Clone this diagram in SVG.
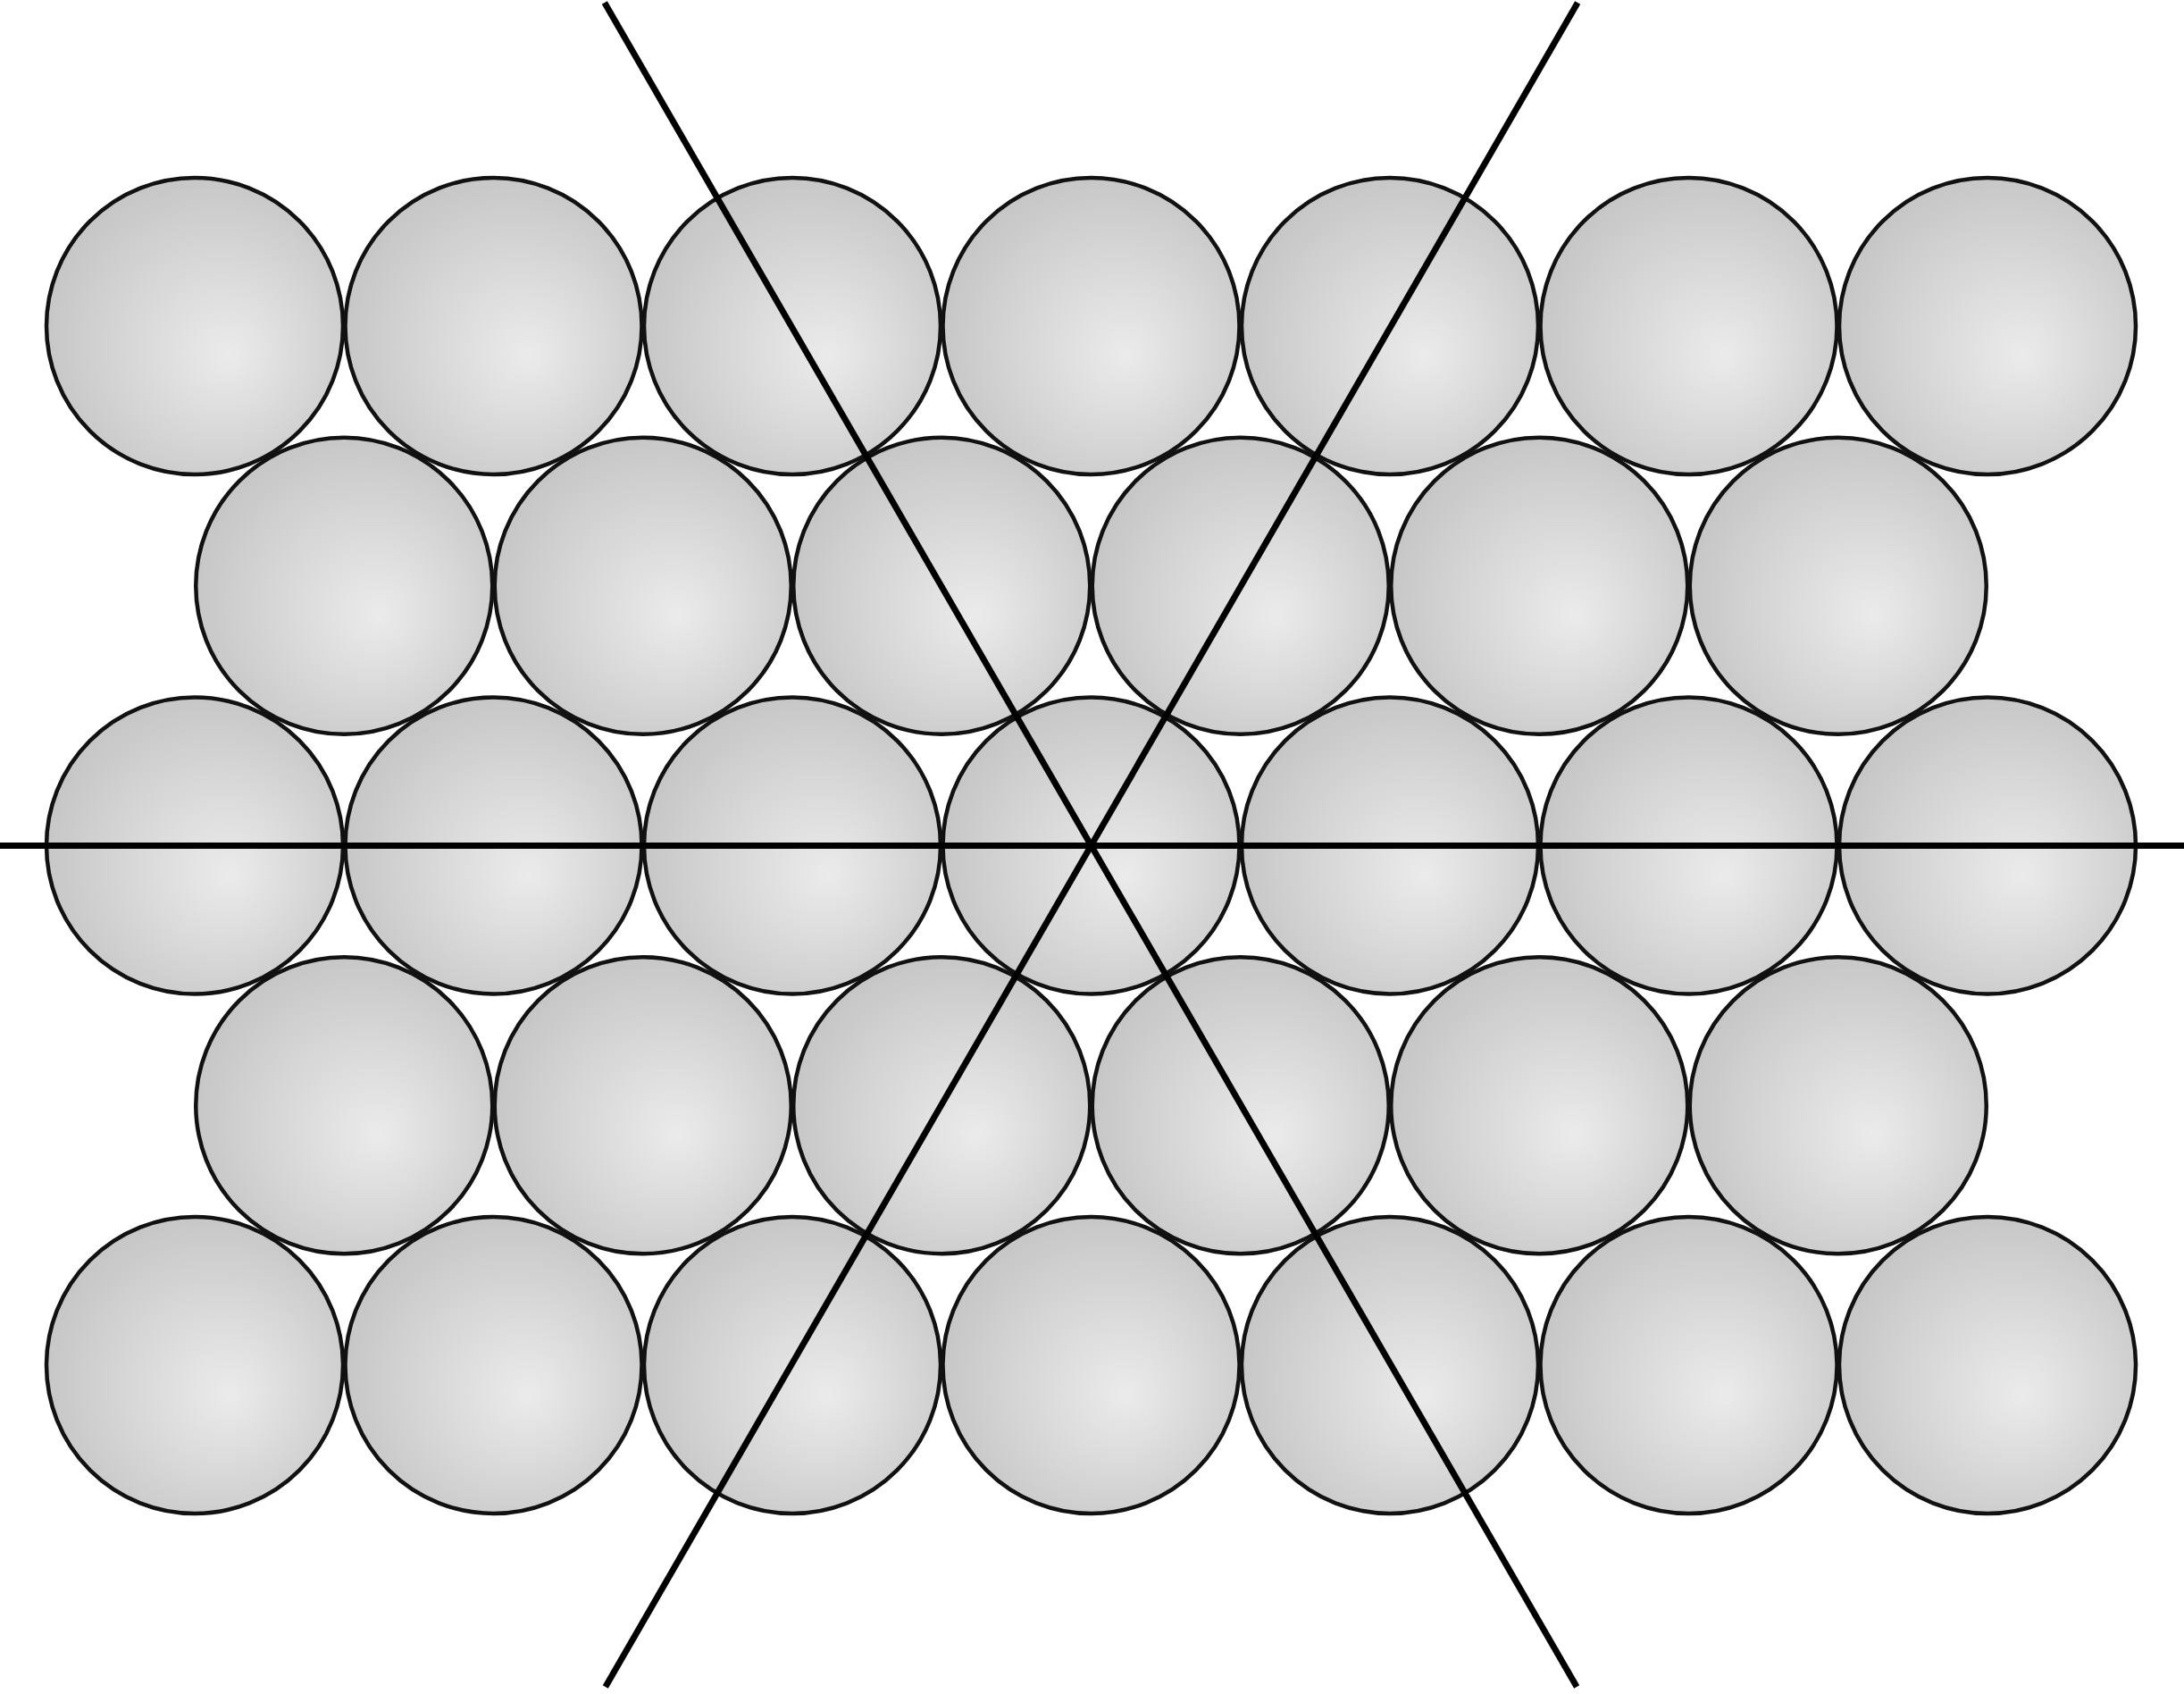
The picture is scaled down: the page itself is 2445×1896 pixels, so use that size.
<svg xmlns="http://www.w3.org/2000/svg" width="2445" height="1896" viewBox="0 0 2445 1896">
<defs>
<radialGradient id="g" cx="0.55" cy="0.55" r="0.6" fx="0.62" fy="0.6">
<stop offset="0" stop-color="#ebebeb"/>
<stop offset="1" stop-color="#c4c4c4"/>
</radialGradient>
</defs>
<style>
.c{fill:url(#g);stroke:#111;stroke-width:4.5}
.l{stroke:#000;stroke-width:7;fill:none}
</style>
<rect width="2445" height="1896" fill="#fff"/>
<g id="row1">
<circle id="c1_1" class="c" cx="218" cy="365" r="166"/>
<circle id="c1_2" class="c" cx="552.5" cy="365" r="166"/>
<circle id="c1_3" class="c" cx="887" cy="365" r="166"/>
<circle id="c1_4" class="c" cx="1221.5" cy="365" r="166"/>
<circle id="c1_5" class="c" cx="1556" cy="365" r="166"/>
<circle id="c1_6" class="c" cx="1890.5" cy="365" r="166"/>
<circle id="c1_7" class="c" cx="2225" cy="365" r="166"/>
</g>
<g id="row2">
<circle id="c2_1" class="c" cx="385.25" cy="655.75" r="166"/>
<circle id="c2_2" class="c" cx="719.75" cy="655.75" r="166"/>
<circle id="c2_3" class="c" cx="1054.25" cy="655.75" r="166"/>
<circle id="c2_4" class="c" cx="1388.75" cy="655.75" r="166"/>
<circle id="c2_5" class="c" cx="1723.25" cy="655.75" r="166"/>
<circle id="c2_6" class="c" cx="2057.75" cy="655.75" r="166"/>
</g>
<g id="row3">
<circle id="c3_1" class="c" cx="218" cy="946.5" r="166"/>
<circle id="c3_2" class="c" cx="552.5" cy="946.5" r="166"/>
<circle id="c3_3" class="c" cx="887" cy="946.5" r="166"/>
<circle id="c3_4" class="c" cx="1221.5" cy="946.5" r="166"/>
<circle id="c3_5" class="c" cx="1556" cy="946.5" r="166"/>
<circle id="c3_6" class="c" cx="1890.5" cy="946.5" r="166"/>
<circle id="c3_7" class="c" cx="2225" cy="946.5" r="166"/>
</g>
<g id="row4">
<circle id="c4_1" class="c" cx="385.25" cy="1237.25" r="166"/>
<circle id="c4_2" class="c" cx="719.75" cy="1237.25" r="166"/>
<circle id="c4_3" class="c" cx="1054.25" cy="1237.25" r="166"/>
<circle id="c4_4" class="c" cx="1388.75" cy="1237.25" r="166"/>
<circle id="c4_5" class="c" cx="1723.25" cy="1237.25" r="166"/>
<circle id="c4_6" class="c" cx="2057.75" cy="1237.25" r="166"/>
</g>
<g id="row5">
<circle id="c5_1" class="c" cx="218" cy="1528" r="166"/>
<circle id="c5_2" class="c" cx="552.5" cy="1528" r="166"/>
<circle id="c5_3" class="c" cx="887" cy="1528" r="166"/>
<circle id="c5_4" class="c" cx="1221.5" cy="1528" r="166"/>
<circle id="c5_5" class="c" cx="1556" cy="1528" r="166"/>
<circle id="c5_6" class="c" cx="1890.5" cy="1528" r="166"/>
<circle id="c5_7" class="c" cx="2225" cy="1528" r="166"/>
</g>
<g id="connectors">
<line class="l" x1="0" y1="946.5" x2="2445" y2="946.5"/>
<line class="l" x1="676.8" y1="3" x2="1765.2" y2="1888"/>
<line class="l" x1="1766.2" y1="3" x2="677.8" y2="1888"/>
</g>
</svg>
